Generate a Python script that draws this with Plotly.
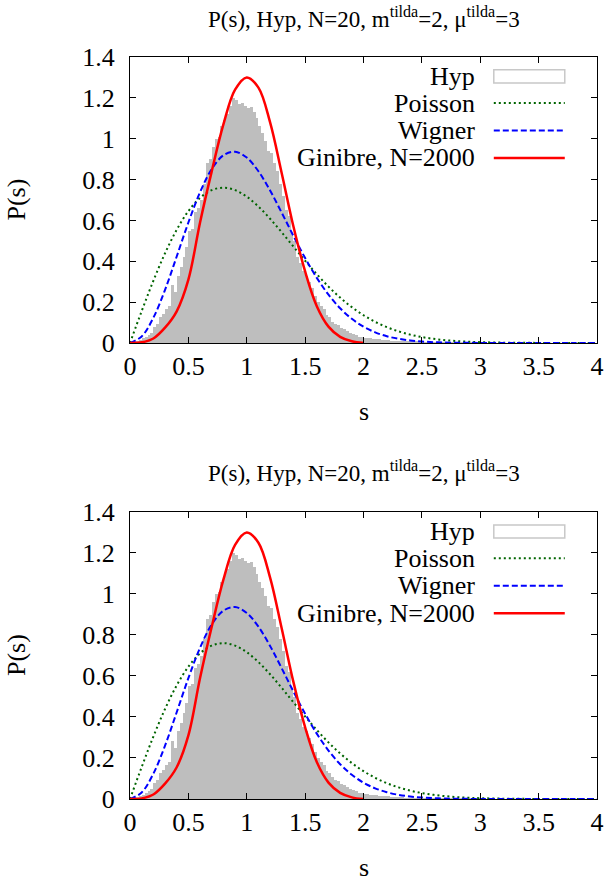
import plotly.graph_objects as go

# ---------------- data ----------------
bin_width = 0.025
hist_left = [round(i * bin_width, 3) for i in range(0, 121)]
hyp_values = [
    0.004, 0.006, 0.010, 0.014, 0.022, 0.030, 0.040, 0.048, 0.078, 0.095,
    0.125, 0.140, 0.165, 0.180, 0.285, 0.250, 0.330, 0.370, 0.420, 0.470,
    0.550, 0.560, 0.640, 0.660, 0.700, 0.780, 0.880, 0.900, 0.960, 1.000,
    1.010, 1.060, 1.090, 1.120, 1.160, 1.200, 1.190, 1.170, 1.175, 1.160,
    1.150, 1.155, 1.130, 1.100, 1.060, 1.030, 0.990, 0.940, 0.930, 0.880,
    0.840, 0.780, 0.720, 0.650, 0.620, 0.540, 0.500, 0.420, 0.390, 0.350,
    0.330, 0.300, 0.270, 0.230, 0.200, 0.180, 0.165, 0.135, 0.125, 0.105,
    0.095, 0.090, 0.075, 0.070, 0.060, 0.050, 0.042, 0.038, 0.030, 0.028,
    0.026, 0.024, 0.022, 0.020, 0.019, 0.017, 0.016, 0.014, 0.013, 0.012,
    0.011, 0.010, 0.009, 0.008, 0.007, 0.007, 0.006, 0.005, 0.005, 0.004,
    0.004, 0.003, 0.003, 0.003, 0.002, 0.002, 0.002, 0.002, 0.001, 0.001,
    0.001, 0.001, 0.001, 0.001, 0.001, 0.001, 0.001, 0.001, 0.001, 0.001,
    0.000,
]

s_curve = [0.0, 0.1, 0.2, 0.3, 0.4, 0.5, 0.6, 0.7, 0.8, 0.9, 1.0, 1.1, 1.2,
           1.3, 1.4, 1.5, 1.6, 1.7, 1.8, 1.9, 2.0, 2.1, 2.2, 2.3, 2.4, 2.5,
           2.6, 2.7, 2.8, 2.9, 3.0, 3.2, 3.4, 3.6, 3.8, 4.0]
poisson_values = [0.0, 0.1559, 0.3044, 0.4391, 0.5541, 0.6454, 0.7104, 0.7483,
                  0.7602, 0.7483, 0.7162, 0.6680, 0.6083, 0.5416, 0.4717, 0.4025,
                  0.3365, 0.2760, 0.2220, 0.1753, 0.1358, 0.1033, 0.0772, 0.0567,
                  0.0409, 0.0290, 0.0202, 0.0138, 0.0093, 0.0062, 0.0040, 0.0016,
                  0.0006, 0.0002, 0.0001, 0.0]
wigner_values = [0.0, 0.0320, 0.1233, 0.2602, 0.4232, 0.5896, 0.7380, 0.8514,
                 0.9186, 0.9364, 0.9076, 0.8405, 0.7464, 0.6371, 0.5240, 0.4158,
                 0.3188, 0.2364, 0.1698, 0.1181, 0.0796, 0.0521, 0.0330, 0.0204,
                 0.0122, 0.0071, 0.0040, 0.0022, 0.0011, 0.0006, 0.0003, 0.0001,
                 0.0, 0.0, 0.0, 0.0]

s_ginibre = [0.0, 0.1, 0.2, 0.3, 0.4, 0.5, 0.6, 0.7, 0.8, 0.9, 1.0, 1.1, 1.2,
             1.3, 1.4, 1.5, 1.6, 1.7, 1.8, 1.9, 2.0]
ginibre_values = [0.0, 0.003, 0.022, 0.075, 0.155, 0.31, 0.59, 0.84, 1.07, 1.24,
                  1.30, 1.25, 1.08, 0.83, 0.57, 0.35, 0.18, 0.08, 0.03, 0.008, 0.0]

x_tickvals = [0, 0.5, 1, 1.5, 2, 2.5, 3, 3.5, 4]
x_ticktext = ["0", "0.5", "1", "1.5", "2", "2.5", "3", "3.5", "4"]
y_tickvals = [0, 0.2, 0.4, 0.6, 0.8, 1.0, 1.2, 1.4]
y_ticktext = ["0", "0.2", "0.4", "0.6", "0.8", "1", "1.2", "1.4"]

title_text = "P(s), Hyp, N=20, m<sup>tilda</sup>=2, \u03bc<sup>tilda</sup>=3"
legend_labels = ["Hyp", "Poisson", "Wigner", "Ginibre, N=2000"]

# ---------------- style ----------------
FONT = "Liberation Serif"
GRAY = "#bebebe"
GREEN = "#006400"
BLUE = "#0000ff"
RED = "#ff0000"

fig = go.Figure()
hist_centers = [l + bin_width / 2 for l in hist_left]

panels = [("x", "y"), ("x2", "y2")]
for xa, ya in panels:
    fig.add_trace(go.Bar(x=hist_centers, y=hyp_values, width=bin_width,
                         marker=dict(color=GRAY, line=dict(width=0)),
                         xaxis=xa, yaxis=ya, showlegend=False))
    fig.add_trace(go.Scatter(x=s_curve, y=poisson_values, mode="lines",
                             line=dict(color=GREEN, width=2, dash="2px,3px", shape="spline"),
                             xaxis=xa, yaxis=ya, showlegend=False))
    fig.add_trace(go.Scatter(x=s_curve, y=wigner_values, mode="lines",
                             line=dict(color=BLUE, width=2, dash="6px,3px", shape="spline"),
                             xaxis=xa, yaxis=ya, showlegend=False))
    fig.add_trace(go.Scatter(x=s_ginibre, y=ginibre_values, mode="lines",
                             line=dict(color=RED, width=2.5, shape="spline"),
                             xaxis=xa, yaxis=ya, showlegend=False))

axis_common = dict(showline=True, linecolor="black", linewidth=1, mirror="allticks",
                   ticks="inside", ticklen=6, tickcolor="black", tickwidth=1,
                   showgrid=False, zeroline=False, automargin=False,
                   tickfont=dict(family=FONT, size=26, color="black"))

fig.update_layout(
    width=606, height=882,
    margin=dict(l=130, r=9, t=57, b=83),
    paper_bgcolor="white", plot_bgcolor="white",
    bargap=0, showlegend=False,
    xaxis=dict(domain=[0, 1], range=[0, 4], anchor="y", tickvals=x_tickvals,
               ticktext=x_ticktext, **axis_common),
    yaxis=dict(domain=[0.6146, 1], range=[0, 1.4], anchor="x", tickvals=y_tickvals,
               ticktext=y_ticktext, ticklabelstandoff=9, **axis_common),
    xaxis2=dict(domain=[0, 1], range=[0, 4], anchor="y2", tickvals=x_tickvals,
                ticktext=x_ticktext, **axis_common),
    yaxis2=dict(domain=[0, 0.3868], range=[0, 1.4], anchor="x2", tickvals=y_tickvals,
                ticktext=y_ticktext, ticklabelstandoff=9, **axis_common),
)

annotations = []
shapes = []
leg_y = [0.932, 0.839, 0.743, 0.647]
for xa, ya in panels:
    xd = xa + " domain"
    yd = ya + " domain"
    annotations.append(dict(text=title_text, xref=xd, yref=yd, x=0.5, y=1.082,
                            xanchor="center", yanchor="bottom", showarrow=False,
                            font=dict(family=FONT, size=23, color="black")))
    annotations.append(dict(text="s", xref=xd, yref=yd, x=0.5, y=-0.24,
                            xanchor="center", yanchor="middle", showarrow=False,
                            font=dict(family=FONT, size=26, color="black")))
    annotations.append(dict(text="P(s)", xref=xd, yref=yd, x=-0.243, y=0.5,
                            xanchor="center", yanchor="middle", showarrow=False,
                            textangle=-90,
                            font=dict(family=FONT, size=26, color="black")))
    for lbl, yy in zip(legend_labels, leg_y):
        annotations.append(dict(text=lbl, xref=xd, yref=yd, x=0.7424, y=yy,
                                xanchor="right", yanchor="middle", showarrow=False,
                                font=dict(family=FONT, size=26, color="black")))
    shapes.append(dict(type="rect", xref=xd, yref=yd, x0=0.779, x1=0.931,
                       y0=leg_y[0] - 0.023, y1=leg_y[0] + 0.023,
                       line=dict(color="#c8c8c8", width=1.5), fillcolor="white"))
    shapes.append(dict(type="line", xref=xd, yref=yd, x0=0.779, x1=0.931,
                       y0=leg_y[1], y1=leg_y[1],
                       line=dict(color=GREEN, width=2, dash="2px,3px")))
    shapes.append(dict(type="line", xref=xd, yref=yd, x0=0.779, x1=0.931,
                       y0=leg_y[2], y1=leg_y[2],
                       line=dict(color=BLUE, width=2, dash="6px,3px")))
    shapes.append(dict(type="line", xref=xd, yref=yd, x0=0.779, x1=0.931,
                       y0=leg_y[3], y1=leg_y[3],
                       line=dict(color=RED, width=2.5)))

fig.update_layout(annotations=annotations, shapes=shapes)
fig.write_html("out.html", config={"displayModeBar": False},
               post_script="document.body.style.margin='0px';")
